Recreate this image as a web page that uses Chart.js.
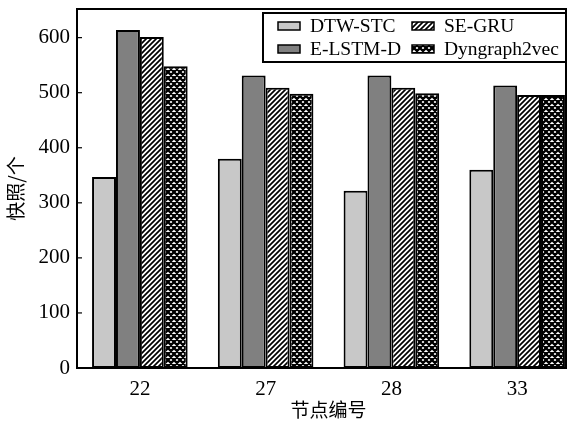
<!DOCTYPE html>
<html><head><meta charset="utf-8">
<script src="https://cdn.jsdelivr.net/npm/chart.js@4/dist/chart.umd.min.js"></script>
<style>html,body{margin:0;padding:0;background:#fff}#w{width:576px;height:425px}</style>
</head><body><div id="w"><canvas id="c" width="576" height="425"></canvas></div>
<script>
const categories = ['22', '27', '28', '33'];
const seriesNames = ['DTW-STC', 'E-LSTM-D', 'SE-GRU', 'Dyngraph2vec'];
const dtwStc = [347, 380, 322, 360];
const eLstmD = [614, 531, 531, 513];
const seGru = [601, 509, 509, 496];
const dyngraph2vec = [548, 498, 499, 496];
const yTicks = [0, 100, 200, 300, 400, 500, 600];

function hatch(size, lw) {
  const c = document.createElement('canvas'); c.width = size; c.height = size;
  const g = c.getContext('2d');
  g.fillStyle = '#fff'; g.fillRect(0, 0, size, size);
  g.strokeStyle = '#000'; g.lineWidth = lw;
  g.beginPath();
  for (let k = -1; k <= 1; k++) { g.moveTo(k * size - 1, size + 1); g.lineTo(k * size + size + 1, -1); }
  g.stroke();
  return g.createPattern(c, 'repeat');
}
function cross(size, lw) {
  const c = document.createElement('canvas'); c.width = size; c.height = size;
  const g = c.getContext('2d');
  g.fillStyle = '#fff'; g.fillRect(0, 0, size, size);
  g.strokeStyle = '#000'; g.lineWidth = lw;
  g.beginPath();
  for (let k = -1; k <= 1; k++) {
    g.moveTo(k * size - 1, size + 1); g.lineTo(k * size + size + 1, -1);
    g.moveTo(k * size - 1, -1); g.lineTo(k * size + size + 1, size + 1);
  }
  g.stroke();
  return g.createPattern(c, 'repeat');
}
const fills = ['#c8c8c8', '#808080', hatch(5, 1.7), cross(6, 2.3)];
const values = [dtwStc, eLstmD, seGru, dyngraph2vec];
const FONT = '"Liberation Serif", "Times New Roman", serif';
const CJK = '"Noto Sans CJK SC", sans-serif';
const X_EXTEND = 14;

const stretchPlugin = {
  id: 'stretch',
  afterLayout(chart) {
    const s = chart.scales.x;
    s.right += X_EXTEND; s.width += X_EXTEND;
    s.configure();
  }
};

const framePlugin = {
  id: 'frame',
  afterDraw(chart) {
    const { ctx, chartArea: a, scales } = chart;
    ctx.save();
    ctx.strokeStyle = '#000'; ctx.lineWidth = 2;
    ctx.strokeRect(a.left, a.top, a.right - a.left, a.bottom - a.top);
    ctx.lineWidth = 1.2;
    yTicks.forEach(v => {
      const y = scales.y.getPixelForValue(v);
      ctx.beginPath(); ctx.moveTo(a.left, y); ctx.lineTo(a.left + 5, y); ctx.stroke();
    });
    // legend
    const lx = 263, ly = 13, lw = 303, lh = 49;
    ctx.fillStyle = '#fff'; ctx.fillRect(lx, ly, lw, lh);
    ctx.lineWidth = 2; ctx.strokeRect(lx, ly, lw, lh);
    const pos = [[0, 0], [0, 1], [1, 0], [1, 1]];
    const colX = [lx + 15, lx + 149];
    const rowY = [ly + 13, ly + 36];
    ctx.font = '19.5px ' + FONT; ctx.textBaseline = 'middle'; ctx.textAlign = 'left';
    chart.data.datasets.forEach((ds, i) => {
      const [col, row] = pos[i];
      const x = colX[col], y = rowY[row];
      ctx.fillStyle = ds.backgroundColor;
      ctx.fillRect(x, y - 4, 22, 8);
      ctx.lineWidth = 1.5; ctx.strokeStyle = '#000';
      ctx.strokeRect(x, y - 4, 22, 8);
      ctx.fillStyle = '#000';
      ctx.fillText(ds.label, x + 32, y + 1);
    });
    ctx.restore();
  }
};

new Chart(document.getElementById('c'), {
  type: 'bar',
  data: {
    labels: categories,
    datasets: seriesNames.map((n, i) => ({
      label: n, data: values[i], backgroundColor: fills[i],
      borderColor: '#000', borderWidth: 2, borderSkipped: false,
      categoryPercentage: 0.76, barPercentage: 1.0
    }))
  },
  options: {
    responsive: false, animation: false,
    layout: { padding: { top: 9, right: 10, left: 0, bottom: 0 } },
    plugins: { legend: { display: false }, tooltip: { enabled: false } },
    scales: {
      x: {
        grid: { display: false, drawTicks: false },
        border: { display: false },
        ticks: { color: '#000', font: { family: FONT, size: 21 }, padding: 9 },
        title: { display: true, text: '节点编号', color: '#000', font: { family: CJK, size: 19 }, padding: { top: 0 } },
        afterFit(s) { s.height = 57; s.paddingLeft = 0; s.paddingRight = 0; }
      },
      y: {
        min: 0, max: 652,
        grid: { display: false, drawTicks: false },
        border: { display: false },
        afterBuildTicks(s) { s.ticks = yTicks.map(v => ({ value: v })); },
        ticks: { color: '#000', font: { family: FONT, size: 21 }, padding: 7 },
        title: { display: true, text: '快照/个', color: '#000', font: { family: CJK, size: 19 }, padding: { bottom: 4 } },
        afterFit(s) { s.width = 77; s.paddingTop = 0; s.paddingBottom = 0; }
      }
    }
  },
  plugins: [stretchPlugin, framePlugin]
});
</script></body></html>
